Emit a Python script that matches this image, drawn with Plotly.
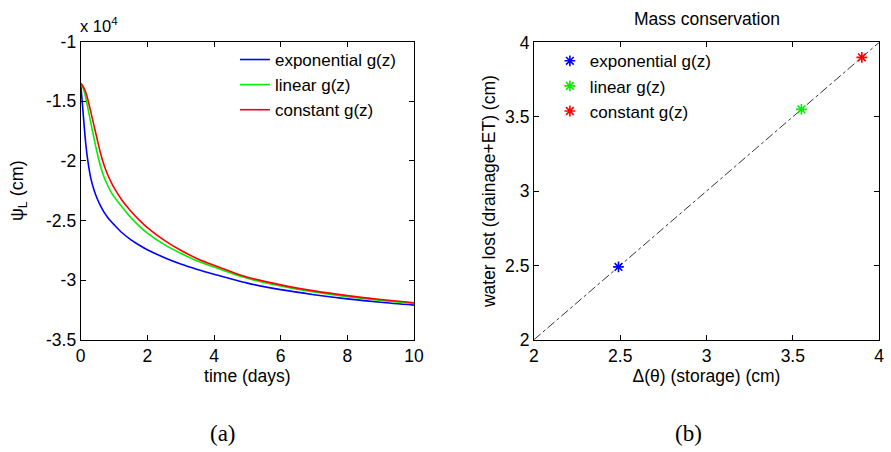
import plotly.graph_objects as go

# ---- panel (a): leaf water potential vs time (values in units of 1e4 cm) ----
time_days = [0, 0.05, 0.1, 0.15, 0.2, 0.3, 0.4, 0.5, 0.6, 0.7, 0.8, 0.9, 1.0, 1.25, 1.5,
             1.75, 2.0, 2.5, 3.0, 3.5, 4.0, 5.0, 6.0, 7.0, 8.0, 9.0, 10.0]
psi_exponential = [-1.35, -1.52, -1.69, -1.85, -1.97, -2.14, -2.245, -2.32, -2.38, -2.43,
                   -2.47, -2.505, -2.535, -2.605, -2.66, -2.705, -2.745, -2.81, -2.865,
                   -2.91, -2.95, -3.025, -3.08, -3.122, -3.157, -3.186, -3.21]
psi_linear = [-1.35, -1.375, -1.41, -1.47, -1.535, -1.675, -1.81, -1.94, -2.05, -2.135,
              -2.20, -2.255, -2.30, -2.39, -2.475, -2.545, -2.605, -2.70, -2.775, -2.84,
              -2.89, -2.985, -3.05, -3.10, -3.14, -3.17, -3.195]
psi_constant = [-1.35, -1.365, -1.39, -1.425, -1.47, -1.585, -1.705, -1.825, -1.94, -2.035,
                -2.11, -2.17, -2.225, -2.335, -2.42, -2.495, -2.56, -2.665, -2.75, -2.82,
                -2.875, -2.975, -3.04, -3.09, -3.13, -3.162, -3.19]

# ---- panel (b): mass balance check ----
storage_change = [2.49, 3.55, 3.90]
water_lost = [2.49, 3.55, 3.90]
identity_line = [2, 4]

series_names = ["exponential g(z)", "linear g(z)", "constant g(z)"]
series_colors = ["#0000ff", "#00ee00", "#ff0000"]

FONT = "Liberation Sans, Arial, sans-serif"
SERIF = "Liberation Serif, DejaVu Serif, serif"
FS = 17.5
LEG_FS = 17

fig = go.Figure()

for name, color, ys in zip(series_names, series_colors,
                           [psi_exponential, psi_linear, psi_constant]):
    fig.add_trace(go.Scatter(
        x=time_days, y=ys, mode="lines", name=name,
        line=dict(color=color, width=1.6, shape="spline", smoothing=0.8),
        xaxis="x", yaxis="y", legend="legend",
    ))

fig.add_trace(go.Scatter(
    x=identity_line, y=identity_line, mode="lines", showlegend=False,
    line=dict(color="black", width=0.8, dash="dashdot"),
    xaxis="x2", yaxis="y2",
))

for name, color, sx, wy in zip(series_names, series_colors, storage_change, water_lost):
    fig.add_trace(go.Scatter(
        x=[sx], y=[wy], mode="markers", name=name,
        marker=dict(symbol="asterisk-open", size=9, color=color,
                    line=dict(color=color, width=1.6)),
        xaxis="x2", yaxis="y2", legend="legend2",
    ))

axis_common = dict(
    showline=True, linecolor="black", linewidth=1, mirror="allticks",
    ticks="inside", ticklen=5, tickcolor="black", tickwidth=1,
    showgrid=False, zeroline=False,
    tickfont=dict(family=FONT, size=FS, color="black"),
)

fig.update_layout(
    width=891, height=452,
    margin=dict(l=0, r=0, t=0, b=0),
    paper_bgcolor="white", plot_bgcolor="white",
    font=dict(family=FONT, color="black"),
    xaxis=dict(domain=[0.0864, 0.4669], range=[0, 10], tickvals=[0, 2, 4, 6, 8, 10],
               title=dict(text="time (days)", font=dict(size=FS), standoff=0),
               anchor="y", **axis_common),
    yaxis=dict(domain=[0.2367, 0.9268], range=[-3.5, -1],
               tickvals=[-3.5, -3, -2.5, -2, -1.5, -1],
               ticktext=["-3.5", "-3", "-2.5", "-2", "-1.5", "-1"],
               title=dict(text="ψ<sub>L</sub> (cm)", font=dict(size=18), standoff=17),
               anchor="x", **axis_common),
    xaxis2=dict(domain=[0.6038, 0.9978], range=[2, 4], tickvals=[2, 2.5, 3, 3.5, 4],
                ticktext=["2", "2.5", "3", "3.5", "4"],
                title=dict(text="Δ(θ) (storage) (cm)", font=dict(size=FS), standoff=0),
                anchor="y2", **axis_common),
    yaxis2=dict(domain=[0.2367, 0.9248], range=[2, 4], tickvals=[2, 2.5, 3, 3.5, 4],
                ticktext=["2", "2.5", "3", "3.5", "4"],
                title=dict(text="water lost (drainage+ET) (cm)", font=dict(size=FS), standoff=4),
                anchor="x2", **axis_common),
    legend=dict(x=0.2625, y=0.926, xanchor="left", yanchor="top",
                bgcolor="rgba(0,0,0,0)", font=dict(size=LEG_FS, family=FONT),
                itemwidth=30),
    legend2=dict(x=0.622, y=0.923, xanchor="left", yanchor="top",
                 bgcolor="rgba(0,0,0,0)", font=dict(size=LEG_FS, family=FONT),
                 itemwidth=30),
    annotations=[
        dict(text="x 10<sup>4</sup>", x=0.083, y=0.937, xref="paper", yref="paper",
             xanchor="left", yanchor="bottom", showarrow=False,
             font=dict(size=16.5, family=FONT)),
        dict(text="Mass conservation", x=0.8008, y=0.98, xref="paper", yref="paper",
             xanchor="center", yanchor="middle", showarrow=False,
             font=dict(size=FS, family=FONT)),
        dict(text="(a)", x=0.249, y=0.02, xref="paper", yref="paper",
             xanchor="center", yanchor="middle", showarrow=False,
             font=dict(size=23, family=SERIF)),
        dict(text="(b)", x=0.78, y=0.02, xref="paper", yref="paper",
             xanchor="center", yanchor="middle", showarrow=False,
             font=dict(size=23, family=SERIF)),
    ],
)

fig.write_html("out.html")
